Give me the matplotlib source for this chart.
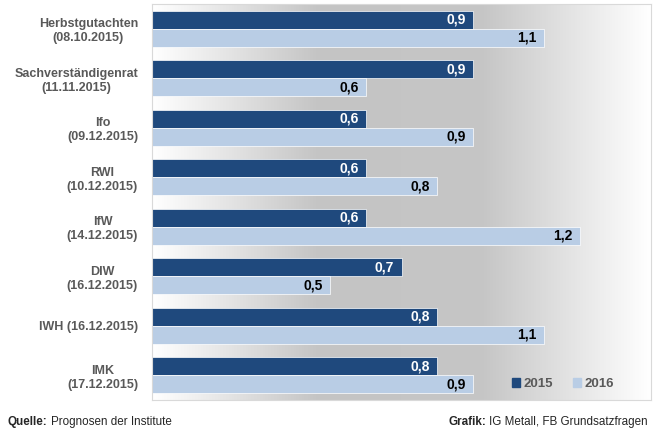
import numpy as np
import matplotlib.pyplot as plt
from matplotlib.colors import LinearSegmentedColormap
from matplotlib.patches import Patch

plt.rcParams['font.family'] = ['Liberation Sans', 'DejaVu Sans']

# Prognosen BIP-Wachstum
institute = ['Herbstgutachten\n(08.10.2015)', 'Sachverständigenrat\n(11.11.2015)',
             'Ifo\n(09.12.2015)', 'RWI\n(10.12.2015)', 'IfW\n(14.12.2015)',
             'DIW\n(16.12.2015)', 'IWH (16.12.2015)', 'IMK\n(17.12.2015)']
werte_2015 = [0.9, 0.9, 0.6, 0.6, 0.6, 0.7, 0.8, 0.8]
werte_2016 = [1.1, 0.6, 0.9, 0.8, 1.2, 0.5, 1.1, 0.9]

dunkel = '#1f497d'
hell = '#b9cde5'
grau = '#595959'

fig = plt.figure(figsize=(6.63, 4.36), dpi=100)
ax = fig.add_axes([152/663, 1 - 400/436, (651-152)/663, (400-4)/436])

n = len(institute)
y = np.arange(n)
h = 0.365

# Hintergrund: weiss -> grau -> weiss
cmap = LinearSegmentedColormap.from_list('bg', ['#ffffff', '#c4c4c4', '#c6c6c6', '#ffffff'])
grad = np.linspace(0, 1, 256).reshape(1, -1)
ax.imshow(grad, aspect='auto', cmap=cmap, extent=[0, 1, 0, 1],
          transform=ax.transAxes, zorder=0)

ax.barh(y - h/2, werte_2015, height=h, color=dunkel, edgecolor='white', linewidth=0.5, zorder=2)
ax.barh(y + h/2, werte_2016, height=h, color=hell, edgecolor='white', linewidth=0.5, zorder=2)

for i in range(n):
    ax.text(werte_2015[i] - 0.02, y[i] - h/2, f'{werte_2015[i]:.1f}'.replace('.', ','),
            ha='right', va='center', color='white', fontsize=10, fontweight='bold', zorder=3)
    ax.text(werte_2016[i] - 0.02, y[i] + h/2, f'{werte_2016[i]:.1f}'.replace('.', ','),
            ha='right', va='center', color='black', fontsize=10, fontweight='bold', zorder=3)

ax.set_xlim(0, 1.4)
ax.set_ylim(n - 0.5, -0.5)
ax.set_xticks([])
ax.set_yticks(y)
ax.set_yticklabels(institute, fontsize=9, fontweight='bold', color=grau,
                   multialignment='center')
ax.tick_params(axis='y', length=0, pad=10)
for s in ax.spines.values():
    s.set_color('#d9d9d9')
    s.set_linewidth(0.8)

ax.legend(handles=[Patch(color=dunkel, label='2015'), Patch(color=hell, label='2016')],
          loc='lower right', bbox_to_anchor=(0.95, -0.005), ncol=2, frameon=False,
          handlelength=0.6, handleheight=0.6, handletextpad=0.3, columnspacing=1.5,
          prop={'weight': 'bold', 'size': 9.5}, labelcolor=grau)

fig.text(8/663, 1 - 422/436, 'Quelle:', fontsize=8.4, fontweight='bold', va='center', color='#262626')
fig.text(51/663, 1 - 422/436, 'Prognosen der Institute', fontsize=8.4, va='center', color='#262626')
fig.text(648/663, 1 - 422/436, 'IG Metall, FB Grundsatzfragen', fontsize=8.4, va='center',
         ha='right', color='#262626')
fig.text(486/663, 1 - 422/436, 'Grafik:', fontsize=8.4, fontweight='bold', va='center',
         ha='right', color='#262626')

fig.savefig('out.png', dpi=100)
